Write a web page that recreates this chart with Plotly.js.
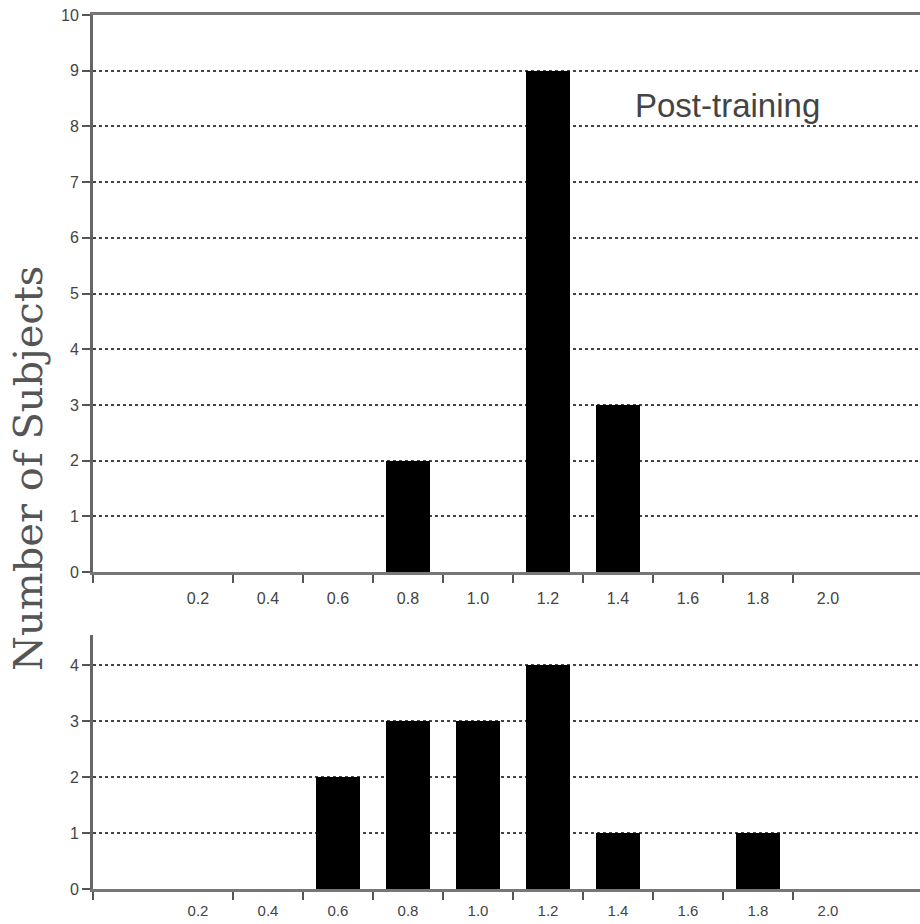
<!DOCTYPE html>
<html>
<head>
<meta charset="utf-8">
<script src="https://cdn.plot.ly/plotly-3.0.1.min.js"></script>
<style>
html,body{margin:0;padding:0;background:#fff;}
#chart{width:920px;height:924px;}
</style>
</head>
<body>
<div id="chart"></div>
<script>
// Bin centres and tick labels
const binCenters = [0.2, 0.4, 0.6, 0.8, 1.0, 1.2, 1.4, 1.6, 1.8, 2.0];
const binLabels  = ["0.2", "0.4", "0.6", "0.8", "1.0", "1.2", "1.4", "1.6", "1.8", "2.0"];
// Bin edges where tick marks are drawn
const binEdges   = [-0.1, 0.3, 0.5, 0.7, 0.9, 1.1, 1.3, 1.5, 1.7, 1.9];
// Counts per bin
const postTrainingCounts = [0, 0, 0, 2, 0, 9, 3, 0, 0, 0];
const preTrainingCounts  = [0, 0, 2, 3, 3, 4, 1, 0, 1, 0];
const topYTicks    = [0, 1, 2, 3, 4, 5, 6, 7, 8, 9, 10];
const bottomYTicks = [0, 1, 2, 3, 4];
const yTitle = "Number of Subjects";
const panelLabel = "Post-training";

const BAR_W = 0.126;
const topXFont = {family: "Liberation Sans, Arial, sans-serif", size: 16, color: "#444"};
const bottomXFont = {family: "Liberation Sans, Arial, sans-serif", size: 15, color: "#444"};
const yFont = {family: "Liberation Sans, Arial, sans-serif", size: 16, color: "#444"};

const traces = [
  {type: "bar", x: binCenters, y: postTrainingCounts, width: BAR_W,
   marker: {color: "#000", line: {width: 0}}, xaxis: "x", yaxis: "y", hoverinfo: "none"},
  {type: "bar", x: binCenters, y: preTrainingCounts, width: BAR_W,
   marker: {color: "#000", line: {width: 0}}, xaxis: "x2", yaxis: "y2", hoverinfo: "none"}
];

function xAxis(anchor, mirror, standoff, font) {
  return {
    anchor: anchor, range: [-0.1, 2.263], showgrid: false, zeroline: false,
    showline: true, linecolor: "#777", linewidth: 3, mirror: mirror,
    tickmode: "array", tickvals: binCenters, ticktext: binLabels,
    ticks: "", tickfont: font, ticklabelstandoff: standoff,
    minor: {tickmode: "array", tickvals: binEdges, ticks: "outside", ticklen: 8,
            tickwidth: 2, tickcolor: "#555", showgrid: false}
  };
}
function yAxis(anchor, domain, range, vals) {
  return {
    anchor: anchor, domain: domain, range: range, zeroline: false,
    showline: true, linecolor: "#666", linewidth: 3,
    tickmode: "array", tickvals: vals, ticks: "outside", ticklen: 8, tickwidth: 2,
    tickcolor: "#555", tickfont: yFont,
    showgrid: true, gridcolor: "#444", gridwidth: 2, griddash: "3px,3px"
  };
}

const layout = {
  width: 920, height: 924,
  margin: {l: 93, r: 0, t: 15, b: 0},
  paper_bgcolor: "#fff", plot_bgcolor: "#fff",
  showlegend: false, bargap: 0,
  xaxis: xAxis("y", true, 10, topXFont),
  yaxis: yAxis("x", [0.3872, 1], [0, 10], topYTicks),
  xaxis2: xAxis("y2", false, 6, bottomXFont),
  yaxis2: yAxis("x2", [0.0385, 0.3179], [0, 4.54], bottomYTicks),
  annotations: [
    {text: panelLabel, xref: "x", yref: "y", x: 1.714, y: 8.37, showarrow: false,
     xanchor: "center", yanchor: "middle",
     font: {family: "Liberation Sans, Arial, sans-serif", size: 33, color: "#444"}},
    {text: yTitle, xref: "paper", yref: "paper", x: -0.0786, y: 0.5017, showarrow: false,
     textangle: -90, xanchor: "center", yanchor: "middle",
     font: {family: "DejaVu Serif, serif", size: 40, color: "#555"}}
  ]
};

Plotly.newPlot("chart", traces, layout, {staticPlot: true, displayModeBar: false});
</script>
</body>
</html>
